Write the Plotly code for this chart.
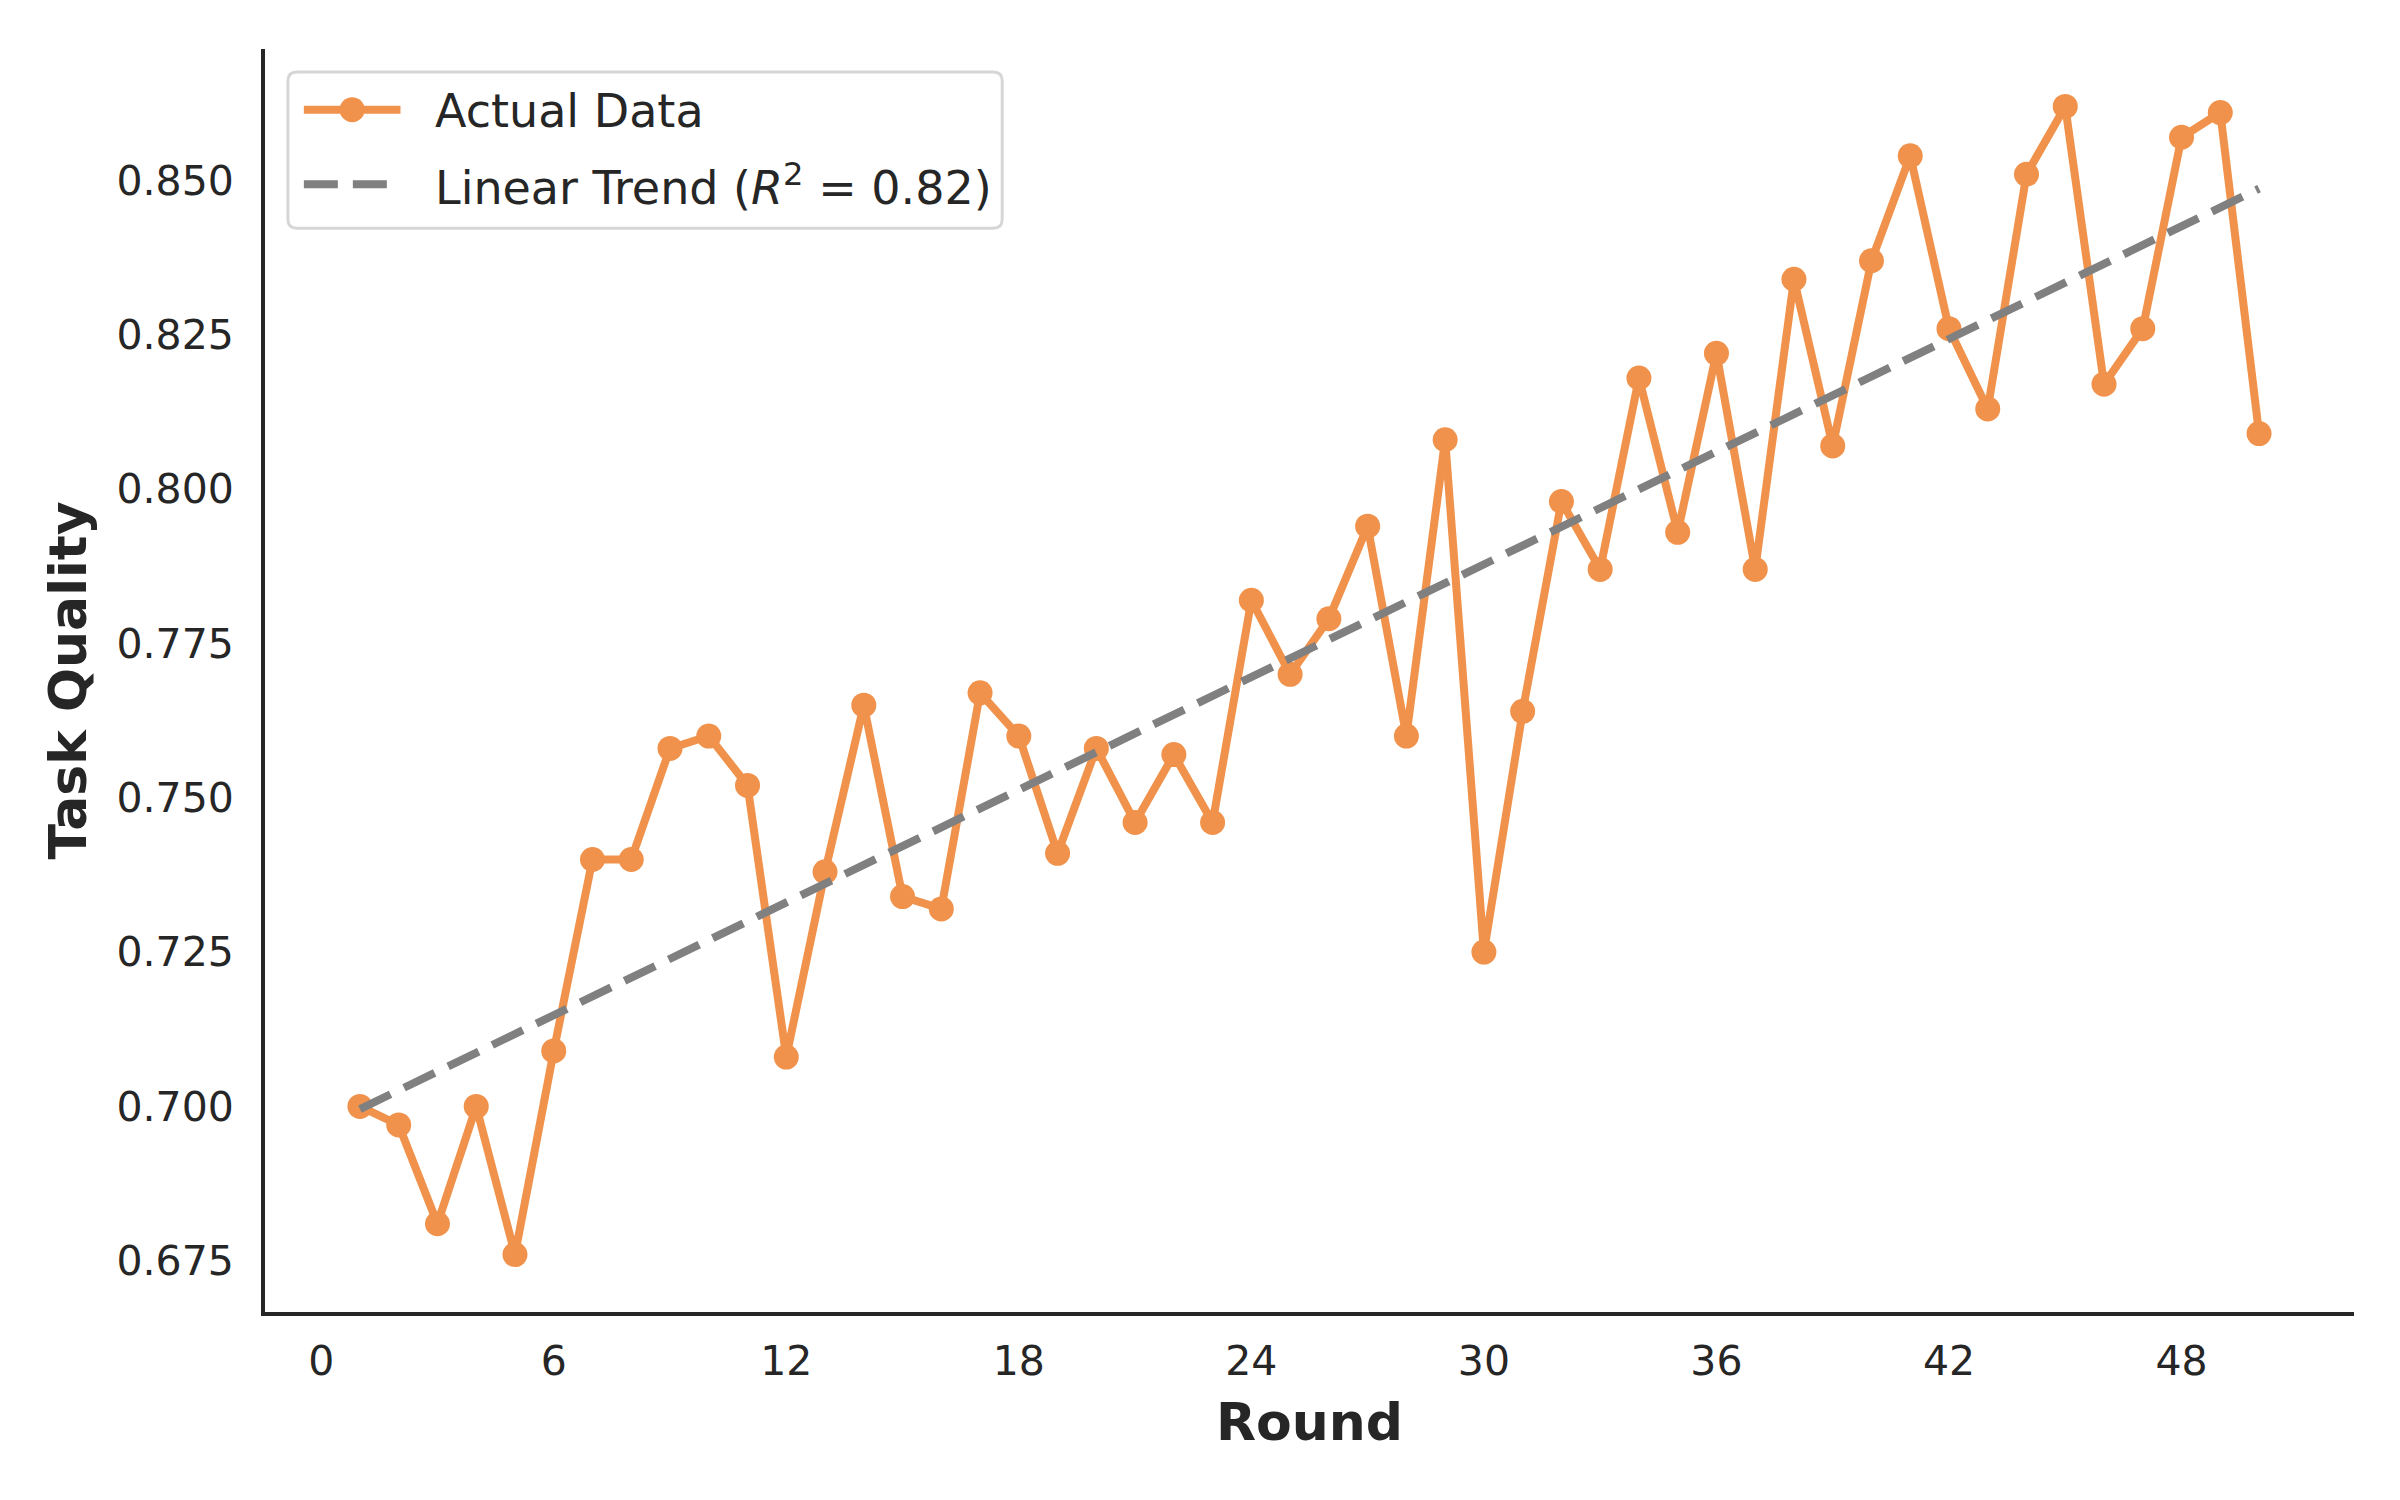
import numpy as np
import plotly.graph_objects as go

rounds = list(range(1, 51))
quality = [0.700, 0.697, 0.681, 0.700, 0.676, 0.709, 0.740, 0.740, 0.758, 0.760,
           0.752, 0.708, 0.738, 0.765, 0.734, 0.732, 0.767, 0.760, 0.741, 0.758,
           0.746, 0.757, 0.746, 0.782, 0.770, 0.779, 0.794, 0.760, 0.808, 0.725,
           0.764, 0.798, 0.787, 0.818, 0.793, 0.822, 0.787, 0.834, 0.807, 0.837,
           0.854, 0.826, 0.813, 0.851, 0.862, 0.817, 0.826, 0.857, 0.861, 0.809]
x_ticks = [0, 6, 12, 18, 24, 30, 36, 42, 48]
y_ticks = [0.675, 0.700, 0.725, 0.750, 0.775, 0.800, 0.825, 0.850]
legend_labels = ["Actual Data", "Linear Trend (<i>R</i><sup>2</sup> = 0.82)"]

x = np.array(rounds, dtype=float)
y = np.array(quality)
slope, intercept = np.polyfit(x, y, 1)
trend = slope * x + intercept

ORANGE = "#f0924b"
GRAY = "#808080"
TXT = "#262626"
FONT = "DejaVu Sans"

# plot area in page pixels
PL, PR, PT, PB = 265, 2362, 49, 1318
W, H = 2400, 1500
M_L, M_R, M_T, M_B = 257, 54, 41, 196


def px(v):
    return (v - PL) / (PR - PL)


def py(v):
    return 1 - (v - PT) / (PB - PT)


fig = go.Figure()
fig.add_trace(go.Scatter(
    x=rounds, y=quality, mode="lines+markers", name=legend_labels[0],
    line=dict(color=ORANGE, width=8),
    marker=dict(color=ORANGE, size=25),
    showlegend=False,
))
fig.add_trace(go.Scatter(
    x=rounds, y=trend, mode="lines", name=legend_labels[1],
    line=dict(color=GRAY, width=8, dash="34px,15px"),
    showlegend=False,
))

# ---- custom legend (box, symbols, labels) ----
bx0, by0, bx1, by1, r = 288, 72, 1005, 229, 9
rx, ry = r / (PR - PL), r / (PB - PT)
X0, X1, Y0, Y1 = px(bx0), px(bx1), py(by1), py(by0)
path = (f"M{X0+rx},{Y1} L{X1-rx},{Y1} Q{X1},{Y1} {X1},{Y1-ry} "
        f"L{X1},{Y0+ry} Q{X1},{Y0} {X1-rx},{Y0} L{X0+rx},{Y0} "
        f"Q{X0},{Y0} {X0},{Y0+ry} L{X0},{Y1-ry} Q{X0},{Y1} {X0+rx},{Y1} Z")
shapes = [dict(type="path", xref="paper", yref="paper", path=path,
               fillcolor="rgba(255,255,255,0.8)", line=dict(color="#d6d6d6", width=3),
               layer="above")]
row_y = [110, 185]
sx0, sx1 = 304, 401
shapes.append(dict(type="line", xref="paper", yref="paper",
                   x0=px(sx0), x1=px(sx1), y0=py(row_y[0]), y1=py(row_y[0]),
                   line=dict(color=ORANGE, width=8), layer="above"))
shapes.append(dict(type="circle", xref="paper", yref="paper",
                   xsizemode="pixel", ysizemode="pixel",
                   xanchor=px((sx0 + sx1) / 2), yanchor=py(row_y[0]),
                   x0=-12.5, x1=12.5, y0=-12.5, y1=12.5,
                   fillcolor=ORANGE, line=dict(color=ORANGE, width=0), layer="above"))
shapes.append(dict(type="line", xref="paper", yref="paper",
                   x0=px(sx0), x1=px(sx1), y0=py(row_y[1]), y1=py(row_y[1]),
                   line=dict(color=GRAY, width=8, dash="34px,15px"), layer="above"))
annotations = []
for lbl, ry_ in zip(legend_labels, row_y):
    annotations.append(dict(text=lbl, xref="paper", yref="paper",
                            x=px(434), y=py(ry_ + 1), xanchor="left", yanchor="middle",
                            showarrow=False, font=dict(family=FONT, size=46, color=TXT)))

xr = x.max() - x.min()
yr = y.max() - y.min()
fig.update_layout(
    width=W, height=H,
    paper_bgcolor="white", plot_bgcolor="white",
    margin=dict(l=M_L, r=M_R, t=M_T, b=M_B),
    font=dict(family=FONT, color=TXT, size=41),
    showlegend=False,
    shapes=shapes,
    annotations=annotations,
    xaxis=dict(
        range=[x.min() - 0.05 * xr, x.max() + 0.05 * xr],
        tickvals=x_ticks, ticktext=[str(v) for v in x_ticks],
        showgrid=False, zeroline=False, showline=True, linecolor=TXT, linewidth=4,
        ticks="", ticklabelstandoff=10,
        tickfont=dict(family=FONT, size=41, color=TXT),
        title=dict(text="<b>Round</b>", font=dict(family=FONT, size=52, color=TXT), standoff=20),
    ),
    yaxis=dict(
        range=[y.min() - 0.05 * yr, y.max() + 0.05 * yr],
        tickvals=y_ticks, ticktext=["%.3f" % v for v in y_ticks],
        showgrid=False, zeroline=False, showline=True, linecolor=TXT, linewidth=4,
        ticks="", ticklabelstandoff=19,
        tickfont=dict(family=FONT, size=41, color=TXT),
        title=dict(text="<b>Task Quality</b>", font=dict(family=FONT, size=52, color=TXT), standoff=14),
    ),
)

fig.write_html("out.html")
